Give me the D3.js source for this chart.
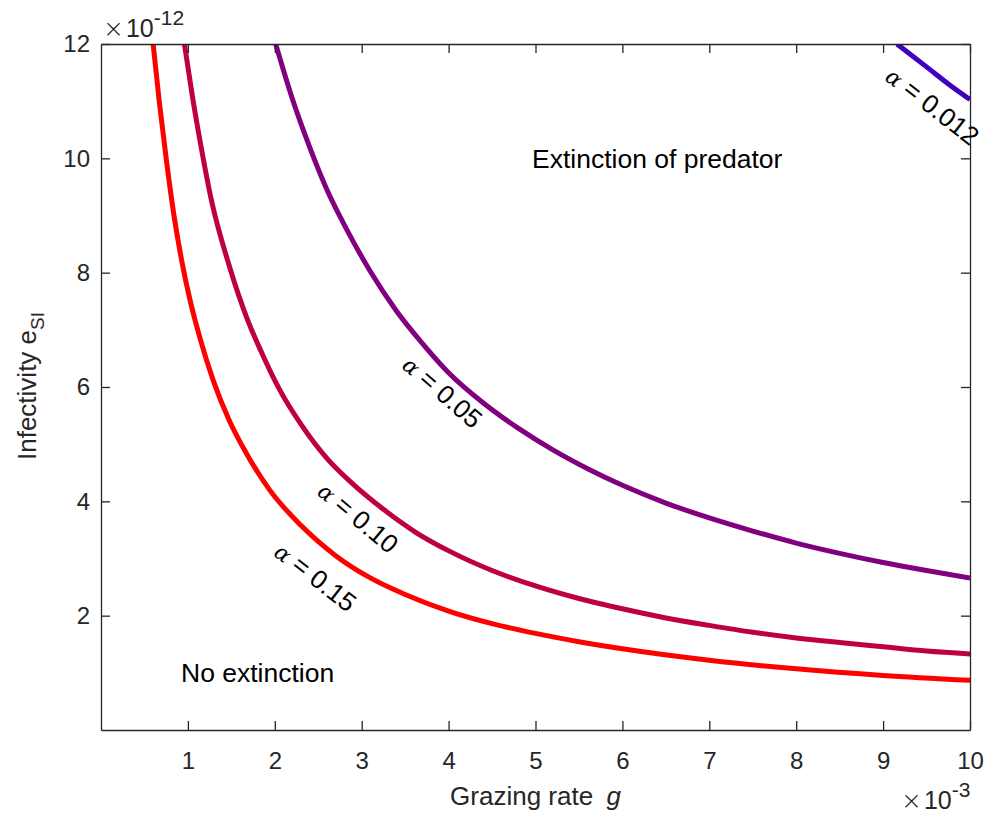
<!DOCTYPE html>
<html>
<head>
<meta charset="utf-8">
<script src="https://cdn.jsdelivr.net/npm/d3@7"></script>
<style>
body { margin:0; background:#fff; }
text { font-family:"Liberation Sans", Arial, sans-serif; }
</style>
</head>
<body>
<svg id="chart"></svg>
<script>
// curves, g in 1e-3, e in 1e-12
var gRed = [0.60,0.67,0.75,0.84,0.93,1.02,1.14,1.29,1.48,1.68,1.94,2.3,2.7,3.1,3.5,4.0,4.5,5.0,5.5,6.0,7.0,8.0,9.0,10]
var eRed = [12.0,11.0,10.0,9.0,8.2,7.55,6.85,6.12,5.4,4.82,4.2,3.58,3.05,2.66,2.37,2.08,1.86,1.69,1.545,1.42,1.22,1.07,0.955,0.87]

var gMag = [0.96,1.05,1.14,1.27,1.48,1.68,1.87,2.06,2.3,2.6,2.9,3.25,3.63,4.02,4.5,5.0,5.5,6.0,6.5,7.0,7.5,8.0,8.5,9.0,9.5,10]
var eMag = [12.0,11.1,10.3,9.27,8.1,7.2,6.53,5.94,5.35,4.75,4.3,3.86,3.45,3.12,2.79,2.52,2.3,2.12,1.96,1.83,1.71,1.61,1.53,1.455,1.38,1.33]

var gPur = [2.01,2.2,2.4,2.6,2.83,3.1,3.4,3.7,4.0,4.4,4.8,5.2,5.6,6.0,6.5,7.0,7.5,8.0,8.5,9.0,9.5,10]
var ePur = [12.0,11.05,10.2,9.45,8.75,8.02,7.33,6.76,6.25,5.72,5.28,4.9,4.57,4.28,3.97,3.71,3.48,3.27,3.09,2.93,2.79,2.66]

var gBlue = [9.16,9.5,9.77,10]
var eBlue = [12.0,11.6,11.28,11.03]

var alphas = ["0.15","0.10","0.05","0.012"]
var xTicks = [1,2,3,4,5,6,7,8,9,10]
var yTicks = [2,4,6,8,10,12]

var screen = {width:1000, height:814}
var margins = {top:44, right:30, bottom:84, left:101}
var width = screen.width - margins.left - margins.right
var height = screen.height - margins.top - margins.bottom

var svg = d3.select("#chart")
    .attr("width",screen.width)
    .attr("height",screen.height)

var xScale = d3.scaleLinear().domain([0,10]).range([0,width])
var yScale = d3.scaleLinear().domain([0,12]).range([height,0])

var cScale = d3.scaleOrdinal()
    .domain(alphas)
    .range(["#ff0000","#bf0040","#800080","#4000bf"])

var graph = svg.append("g")
    .attr("transform","translate("+margins.left+","+margins.top+")")

graph.append("clipPath").attr("id","clip")
    .append("rect").attr("width",width).attr("height",height)

var curves = [
    {alpha:"0.15", g:gRed, e:eRed},
    {alpha:"0.10", g:gMag, e:eMag},
    {alpha:"0.05", g:gPur, e:ePur},
    {alpha:"0.012", g:gBlue, e:eBlue}
]

var line = d3.line()
    .x(function(d){ return xScale(d[0]) })
    .y(function(d){ return yScale(d[1]) })
    .curve(d3.curveMonotoneX)

graph.append("g").attr("clip-path","url(#clip)")
    .selectAll("path")
    .data(curves)
    .enter()
    .append("path")
    .attr("fill","none")
    .attr("stroke",function(d){ return cScale(d.alpha) })
    .attr("stroke-width",5)
    .attr("stroke-linejoin","round")
    .attr("d",function(d){ return line(d.g.map(function(g,i){ return [g,d.e[i]] })) })

// axes, matlab style: ticks inside, box on
var axisColor = "#262626"
var drawAxis = function(axis, transform, labels)
{
    var a = graph.append("g")
        .attr("transform",transform)
        .call(axis)
    a.select(".domain").attr("stroke",axisColor).attr("stroke-width",1.3)
    a.selectAll(".tick line").attr("stroke",axisColor).attr("stroke-width",1.3)
    a.selectAll(".tick text")
        .attr("fill",axisColor)
        .style("font-size","24px")
        .style("font-family","'Liberation Sans', Arial, sans-serif")
    if(!labels) a.selectAll(".tick text").remove()
    return a
}

drawAxis(d3.axisBottom(xScale).tickValues(xTicks).tickSizeInner(-9).tickSizeOuter(0).tickPadding(22),
    "translate(0,"+height+")", true)
drawAxis(d3.axisTop(xScale).tickValues(xTicks).tickSizeInner(-9).tickSizeOuter(0),
    "translate(0,0)", false)
drawAxis(d3.axisLeft(yScale).tickValues(yTicks).tickSizeInner(-9).tickSizeOuter(0).tickPadding(11),
    "translate(0,0)", true)
drawAxis(d3.axisRight(yScale).tickValues(yTicks).tickSizeInner(-9).tickSizeOuter(0),
    "translate("+width+",0)", false)

// exponent labels
var expo = function(x, y, p)
{
    var t = svg.append("text")
        .attr("x",x).attr("y",y)
        .attr("fill",axisColor)
        .style("font-size","25px")
    t.append("tspan").text("\u00d7").style("font-family","'DejaVu Sans', sans-serif").style("font-weight","200")
    t.append("tspan").text("10").attr("dx",2)
    t.append("tspan").text(p).attr("dy",-12).style("font-size","21px")
}
expo(103, 37, "-12")
expo(901, 809, "-3")

// axis titles
var xl = svg.append("text")
    .attr("x",margins.left+width/2)
    .attr("y",805)
    .attr("text-anchor","middle")
    .attr("fill",axisColor)
    .style("font-size","26px")
xl.append("tspan").text("Grazing rate ")
xl.append("tspan").text("g").attr("dx",6).style("font-style","italic")

var yl = svg.append("text")
    .attr("transform","translate(36,386) rotate(-90)")
    .attr("text-anchor","middle")
    .attr("fill",axisColor)
    .style("font-size","26px")
yl.append("tspan").text("Infectivity e")
yl.append("tspan").text("SI").attr("dy",8).style("font-size","19px")

// region notes
svg.append("text")
    .attr("x",532).attr("y",168)
    .text("Extinction of predator")
    .style("font-size","26.5px")
svg.append("text")
    .attr("x",181).attr("y",682)
    .text("No extinction")
    .style("font-size","26.5px")

// contour labels, placed beside the lines
var labelPos = [
    {alpha:"0.15", g:2.47, e:2.68, angle:38},
    {alpha:"0.10", g:2.96, e:3.72, angle:40},
    {alpha:"0.05", g:3.93, e:5.92, angle:41},
    {alpha:"0.012", g:9.57, e:10.92, angle:38}
]

var labs = graph.selectAll(".clab")
    .data(labelPos)
    .enter()
    .append("text")
    .attr("class","clab")
    .attr("transform",function(d){ return "translate("+xScale(d.g)+","+yScale(d.e)+") rotate("+d.angle+")" })
    .attr("text-anchor","middle")
    .attr("dy","0.35em")
    .style("font-size","26px")
    .attr("fill","#000")
labs.append("tspan").text("\u03b1").style("font-family","'DejaVu Serif', serif").style("font-style","italic").style("font-size","22px")
labs.append("tspan").text(function(d){ return " = "+d.alpha })

</script>
</body>
</html>
